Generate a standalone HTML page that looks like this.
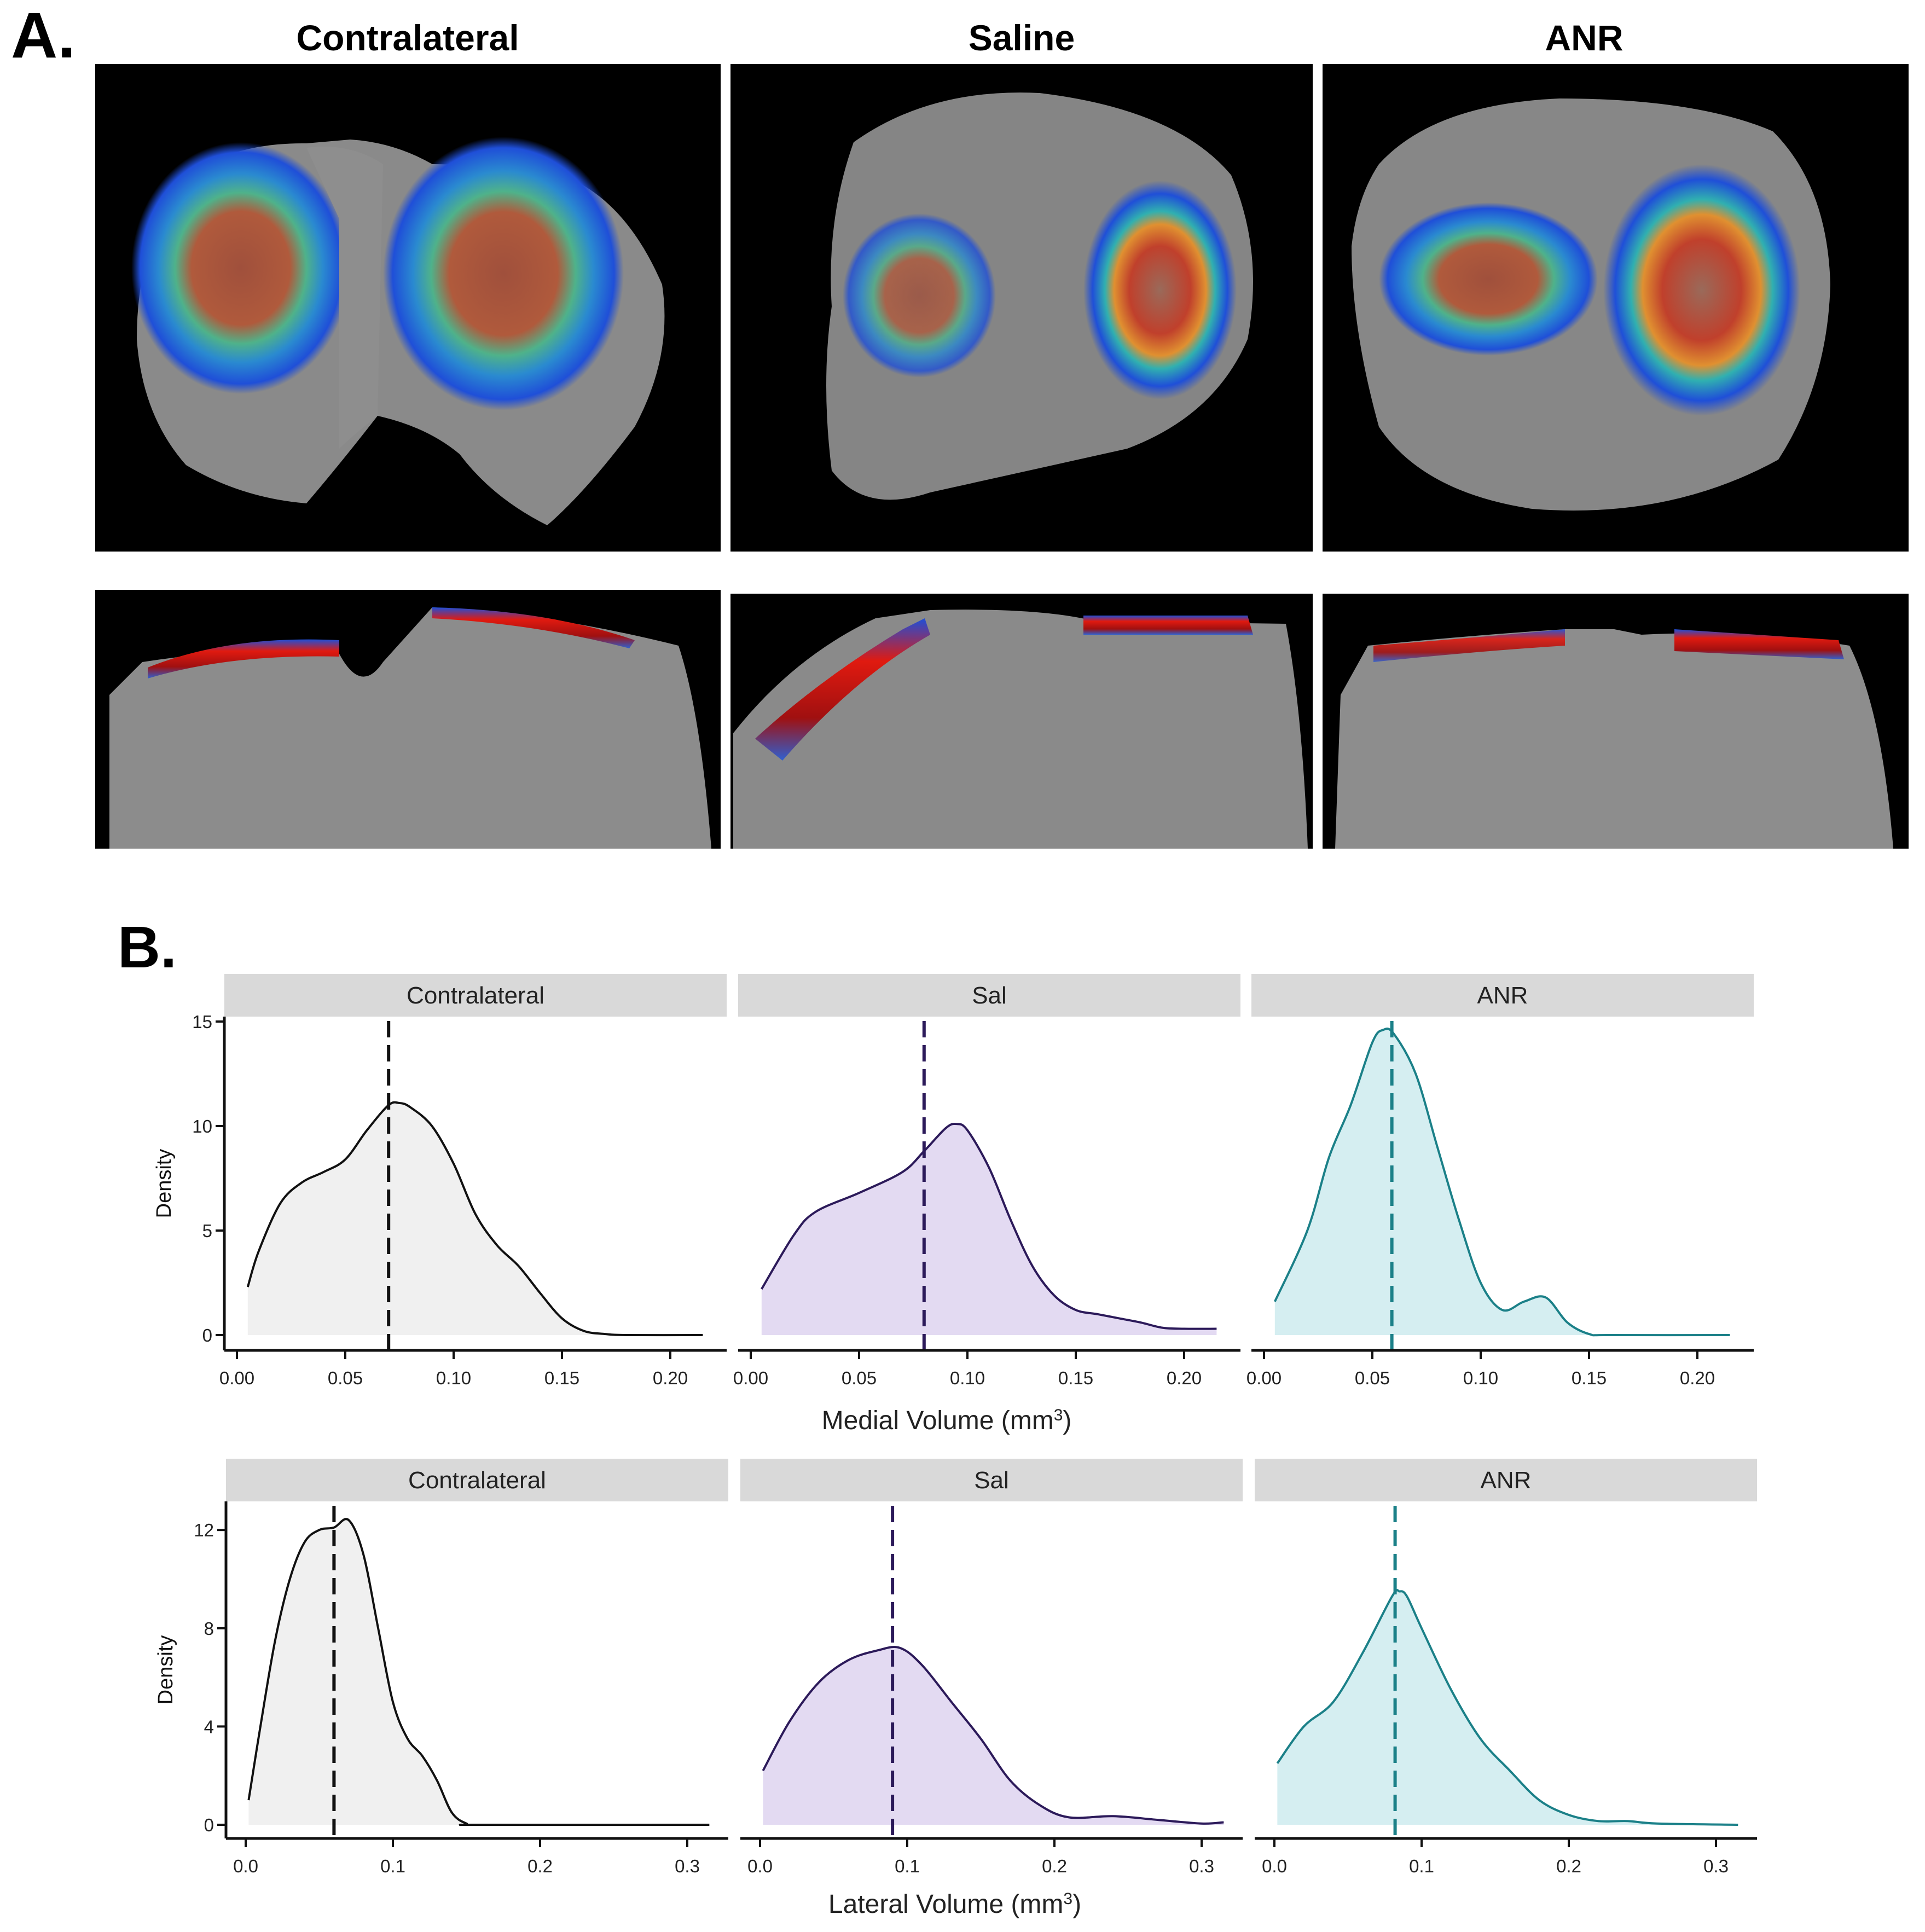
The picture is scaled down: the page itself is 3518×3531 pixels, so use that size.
<!DOCTYPE html>
<html><head><meta charset="utf-8"><style>
html,body{margin:0;padding:0;background:#fff;}
body{width:3518px;height:3526px;position:relative;overflow:hidden;font-family:"Liberation Sans",sans-serif;}
</style></head><body>
<svg id="fig" width="3518" height="3526" viewBox="0 0 3518 3526" xmlns="http://www.w3.org/2000/svg">
<defs>
<radialGradient id="heat" cx="50%" cy="50%" r="50%">
<stop offset="0" stop-color="#a0503c"/><stop offset="0.45" stop-color="#b05a3c"/><stop offset="0.6" stop-color="#4fb28a"/><stop offset="0.75" stop-color="#2a8ad0"/><stop offset="0.92" stop-color="#1f4fd8"/><stop offset="1" stop-color="#1f4fd8" stop-opacity="0"/>
</radialGradient>
<radialGradient id="heat2" cx="50%" cy="50%" r="50%">
<stop offset="0" stop-color="#9a6a5a"/><stop offset="0.4" stop-color="#c0402c"/><stop offset="0.6" stop-color="#e09030"/><stop offset="0.72" stop-color="#30b0b0"/><stop offset="0.88" stop-color="#1f4fd8"/><stop offset="1" stop-color="#1f4fd8" stop-opacity="0"/>
</radialGradient>
<linearGradient id="band" x1="0" y1="0" x2="0" y2="1">
<stop offset="0" stop-color="#1f4fd8"/><stop offset="0.3" stop-color="#e01a10"/><stop offset="0.7" stop-color="#a01010"/><stop offset="1" stop-color="#3060d0"/>
</linearGradient>
</defs>
<text x="20" y="105" font-size="118" font-weight="bold" fill="#000">A.</text>
<text x="745" y="92" font-size="66" font-weight="bold" text-anchor="middle">Contralateral</text>
<text x="1867" y="92" font-size="66" font-weight="bold" text-anchor="middle">Saline</text>
<text x="2895" y="92" font-size="66" font-weight="bold" text-anchor="middle">ANR</text>

<!-- Top images -->
<g>
<rect x="174" y="117" width="1143" height="891" fill="#000"/>
<path d="M330 330 Q420 260 560 262 L640 255 Q720 260 790 300 Q900 300 1050 330 Q1150 380 1210 520 Q1230 650 1160 780 Q1070 900 1000 960 Q900 910 840 830 Q780 780 690 760 Q620 850 560 920 Q440 910 340 850 Q260 760 250 620 Q250 450 330 330Z" fill="#8a8a8a"/>
<ellipse cx="440" cy="490" rx="200" ry="230" fill="url(#heat)"/>
<ellipse cx="920" cy="500" rx="220" ry="250" fill="url(#heat)"/>
<path d="M560 270 Q640 260 700 300 L690 760 Q640 800 620 820 L620 400Z" fill="#8e8e8e"/>
</g>
<g>
<rect x="1335" y="117" width="1064" height="891" fill="#000"/>
<path d="M1560 260 Q1700 160 1900 170 Q2150 200 2250 320 Q2310 460 2280 620 Q2220 760 2060 820 Q1880 860 1700 900 Q1580 940 1520 860 Q1500 700 1520 560 Q1510 400 1560 260Z" fill="#858585"/>
<ellipse cx="1680" cy="540" rx="140" ry="150" fill="url(#heat)" opacity="0.8"/>
<ellipse cx="2120" cy="530" rx="140" ry="200" fill="url(#heat2)"/>
</g>
<g>
<rect x="2417" y="117" width="1071" height="891" fill="#000"/>
<path d="M2520 300 Q2620 190 2850 180 Q3100 180 3240 240 Q3340 340 3345 520 Q3340 700 3250 840 Q3050 950 2800 930 Q2600 900 2520 780 Q2470 600 2470 450 Q2480 360 2520 300Z" fill="#878787"/>
<ellipse cx="2720" cy="510" rx="200" ry="140" fill="url(#heat)"/>
<ellipse cx="3110" cy="530" rx="180" ry="230" fill="url(#heat2)"/>
</g>
<!-- Bottom images -->
<g>
<rect x="174" y="1078" width="1143" height="473" fill="#000"/>
<path d="M200 1270 L260 1210 Q450 1180 620 1195 Q660 1270 700 1210 L790 1110 Q1000 1120 1240 1180 Q1280 1300 1300 1551 L200 1551Z" fill="#8c8c8c"/>
<path d="M270 1220 Q420 1160 620 1170 L620 1200 Q420 1195 270 1240Z" fill="url(#band)"/>
<path d="M790 1110 Q1000 1115 1160 1170 L1150 1185 Q980 1140 790 1130Z" fill="url(#band)"/>
</g>
<g>
<rect x="1335" y="1085" width="1064" height="466" fill="#000"/>
<path d="M1340 1340 Q1450 1200 1600 1130 L1700 1115 Q1900 1110 2000 1135 L2350 1140 Q2380 1300 2390 1551 L1340 1551Z" fill="#8a8a8a"/>
<path d="M1380 1350 Q1500 1240 1650 1150 L1690 1130 L1700 1160 Q1560 1240 1430 1390Z" fill="url(#band)"/>
<path d="M1980 1125 L2280 1125 L2290 1160 L1980 1160Z" fill="url(#band)"/>
</g>
<g>
<rect x="2417" y="1085" width="1071" height="466" fill="#000"/>
<path d="M2450 1270 L2500 1180 Q2700 1160 2860 1150 L2950 1150 L3000 1160 Q3200 1150 3380 1180 Q3440 1300 3460 1551 L2440 1551Z" fill="#8d8d8d"/>
<path d="M2510 1180 Q2700 1165 2860 1150 L2860 1180 Q2700 1190 2510 1210Z" fill="url(#band)" opacity="0.9"/>
<path d="M3060 1150 L3360 1170 L3370 1205 L3060 1190Z" fill="url(#band)"/>
</g>

<text x="215" y="1768" font-size="108" font-weight="bold">B.</text>
<g id="charts"></g>
</svg>
<script>
// ---- Data: medial volume densities ----
const medialX = {
 contra:[0.005,0.01,0.02,0.03,0.04,0.05,0.06,0.07,0.075,0.08,0.09,0.10,0.11,0.12,0.13,0.14,0.15,0.16,0.17,0.18,0.215],
 sal:[0.005,0.02,0.03,0.05,0.07,0.08,0.09,0.095,0.10,0.11,0.12,0.13,0.14,0.15,0.16,0.17,0.18,0.19,0.20,0.215],
 anr:[0.005,0.02,0.03,0.04,0.05,0.055,0.06,0.07,0.08,0.09,0.10,0.11,0.12,0.13,0.14,0.15,0.16,0.215]
};
const medialY = {
 contra:[2.3,4.0,6.3,7.3,7.8,8.4,9.8,11.0,11.1,10.9,10.0,8.2,5.8,4.3,3.3,2.0,0.8,0.2,0.05,0,0],
 sal:[2.2,4.8,5.9,6.8,7.8,8.8,9.9,10.1,9.8,8.0,5.5,3.3,1.9,1.2,1.0,0.8,0.6,0.35,0.3,0.3],
 anr:[1.6,5.0,8.5,11.0,14.0,14.6,14.4,12.5,9.0,5.5,2.5,1.2,1.6,1.8,0.6,0.05,0,0]
};
const medialMean = {contra:0.070, sal:0.080, anr:0.059};
// ---- Data: lateral volume densities ----
const lateralX = {
 contra:[0.002,0.01,0.02,0.03,0.04,0.05,0.06,0.07,0.08,0.09,0.10,0.11,0.12,0.13,0.14,0.15,0.16,0.315],
 sal:[0.002,0.02,0.04,0.06,0.08,0.095,0.11,0.13,0.15,0.17,0.19,0.21,0.24,0.27,0.30,0.315],
 anr:[0.002,0.02,0.04,0.06,0.08,0.085,0.09,0.10,0.12,0.14,0.16,0.18,0.20,0.22,0.24,0.26,0.315]
};
const lateralY = {
 contra:[1.0,4.0,7.5,10.0,11.5,12.0,12.1,12.4,11.0,8.0,5.0,3.5,2.8,1.8,0.5,0.05,0,0],
 sal:[2.2,4.2,5.8,6.7,7.1,7.2,6.5,5.0,3.5,1.8,0.8,0.3,0.35,0.2,0.05,0.1],
 anr:[2.5,4.0,5.0,7.0,9.3,9.5,9.3,8.0,5.5,3.5,2.2,1.0,0.4,0.15,0.15,0.05,0]
};
const lateralMean = {contra:0.060, sal:0.090, anr:0.082};
const groups = ['contra','sal','anr'];
const stripLabels = ['Contralateral','Sal','ANR'];
const medialXTicks = [0,0.05,0.10,0.15,0.20];
const medialXTickLabels = ['0.00','0.05','0.10','0.15','0.20'];
const medialYTicks = [0,5,10,15];
const lateralXTicks = [0,0.1,0.2,0.3];
const lateralXTickLabels = ['0.0','0.1','0.2','0.3'];
const lateralYTicks = [0,4,8,12];

const NS='http://www.w3.org/2000/svg';
const root=document.getElementById('charts');
const fills={contra:'#f0f0f0',sal:'#e3daf2',anr:'#d5eef1'};
const strokes={contra:'#111',sal:'#2c1a5a',anr:'#1b8088'};
function mk(tag,attrs,parent){const e=document.createElementNS(NS,tag);for(const k in attrs)e.setAttribute(k,attrs[k]);(parent||root).appendChild(e);return e;}
function smooth(pts){let d='M'+pts[0][0]+' '+pts[0][1];for(let i=0;i<pts.length-1;i++){const p0=pts[i-1]||pts[i],p1=pts[i],p2=pts[i+1],p3=pts[i+2]||p2;const c1x=p1[0]+(p2[0]-p0[0])/6,c1y=p1[1]+(p2[1]-p0[1])/6,c2x=p2[0]-(p3[0]-p1[0])/6,c2y=p2[1]-(p3[1]-p1[1])/6;d+=` C${c1x} ${c1y} ${c2x} ${c2y} ${p2[0]} ${p2[1]}`;}return d;}

function row(cfg){
 cfg.panels.forEach((px,i)=>{
  const g=groups[i];
  const sx=v=>px+cfg.x0+v*cfg.xs;
  const sy=v=>cfg.y0-v*cfg.ys;
  const strip=mk('rect',{x:px,y:cfg.stripY,width:cfg.w,height:cfg.stripH,fill:'#d9d9d9'});
  
  
  const st=mk('text',{x:px+cfg.w/2,y:cfg.stripY+cfg.stripH/2+15,'font-size':44,'text-anchor':'middle',fill:'#222'});
  st.textContent=stripLabels[i];
  
  
  const xs=cfg.X[g],ys=cfg.Y[g];
  const pts=xs.map((x,k)=>[sx(x),sy(ys[k])]);
  const line=smooth(pts);
  const area=mk('path',{d:line+` L${sx(xs[xs.length-1])} ${sy(0)} L${sx(xs[0])} ${sy(0)} Z`,fill:fills[g],stroke:'none'});
  
  
  const cur=mk('path',{d:line,fill:'none',stroke:strokes[g],'stroke-width':4});
  
  
  const mv=mk('line',{x1:sx(cfg.M[g]),x2:sx(cfg.M[g]),y1:cfg.stripY+cfg.stripH+8,y2:cfg.axisY,stroke:strokes[g],'stroke-width':6,'stroke-dasharray':'30 14'});
  
  
  const ax=mk('line',{x1:px,x2:px+cfg.w,y1:cfg.axisY,y2:cfg.axisY,stroke:'#111','stroke-width':5});
  
  
  cfg.xt.forEach((t,k)=>{
   mk('line',{x1:sx(t),x2:sx(t),y1:cfg.axisY,y2:cfg.axisY+16,stroke:'#111','stroke-width':4});
   const tl=mk('text',{x:sx(t),y:cfg.axisY+62,'font-size':33,'text-anchor':'middle',fill:'#222'});
   tl.textContent=cfg.xtl[k];
   
   
  });
  if(i===0){
   const ya=mk('line',{x1:px,x2:px,y1:cfg.stripY+cfg.stripH,y2:cfg.axisY,stroke:'#111','stroke-width':5});
   
   
   cfg.yt.forEach(t=>{
    mk('line',{x1:px-16,x2:px,y1:sy(t),y2:sy(t),stroke:'#111','stroke-width':4});
    const tl=mk('text',{x:px-22,y:sy(t)+12,'font-size':33,'text-anchor':'end',fill:'#222'});
    tl.textContent=t;
    
    
   });
   const yt=mk('text',{x:0,y:0,'font-size':38,'text-anchor':'middle',fill:'#111',transform:`translate(${px-98},${(cfg.stripY+cfg.stripH+cfg.axisY)/2}) rotate(-90)`});
   yt.textContent='Density';
   
   
  }
 });
 const xt=mk('text',{x:cfg.titleX,y:cfg.titleY,'font-size':48,'text-anchor':'middle',fill:'#222'});
 xt.innerHTML=cfg.title+' (mm<tspan baseline-shift="super" font-size="30">3</tspan>)';
 
 
}
row({name:'medial',panels:[410,1349,2287],w:918,stripY:1780,stripH:78,x0:23,xs:3960,y0:2440,ys:38.2,axisY:2468,
 X:medialX,Y:medialY,M:medialMean,xt:medialXTicks,xtl:medialXTickLabels,yt:medialYTicks,title:'Medial Volume',titleX:1730,titleY:2612});
row({name:'lateral',panels:[413,1353,2293],w:918,stripY:2666,stripH:78,x0:36,xs:2690,y0:3335,ys:44.9,axisY:3360,
 X:lateralX,Y:lateralY,M:lateralMean,xt:lateralXTicks,xtl:lateralXTickLabels,yt:lateralYTicks,title:'Lateral Volume',titleX:1745,titleY:3496});
</script>
</body></html>
